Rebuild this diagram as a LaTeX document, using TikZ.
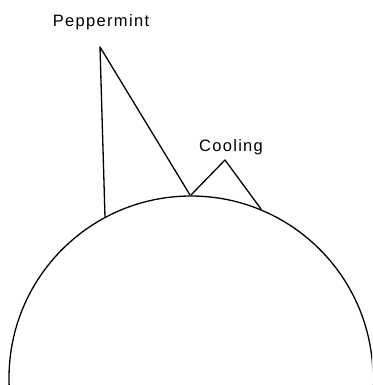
\documentclass[tikz,border=0pt]{standalone}
\usepackage{fontspec}
\setmainfont{Liberation Sans}[LetterSpace=8]
\usepackage{tikz}
\usetikzlibrary{arrows.meta}
\usepackage{xcolor}
\begin{document}
\begin{tikzpicture}[x=1pt,y=-1pt,line width=1.3pt,line cap=round,line join=round,font=\fontsize{16.5}{18}\selectfont]
\useasboundingbox (0,0) rectangle (372,385);
\begin{scope}
\clip (0,0) rectangle (372,385);
\draw (191,378) circle (182);
\end{scope}
\node (pep) at (101,22) {Peppermint};
\node (cool) at (231,147) {Cooling};
\coordinate (pa) at (100,47);
\coordinate (pl) at (105,217);
\coordinate (pr) at (190,195);
\coordinate (ca) at (225,160);
\coordinate (cl) at (191,195);
\coordinate (cr) at (261,209);
\draw (pl) -- (pa) -- (pr);
\draw (cl) -- (ca) -- (cr);
\end{tikzpicture}
\end{document}
